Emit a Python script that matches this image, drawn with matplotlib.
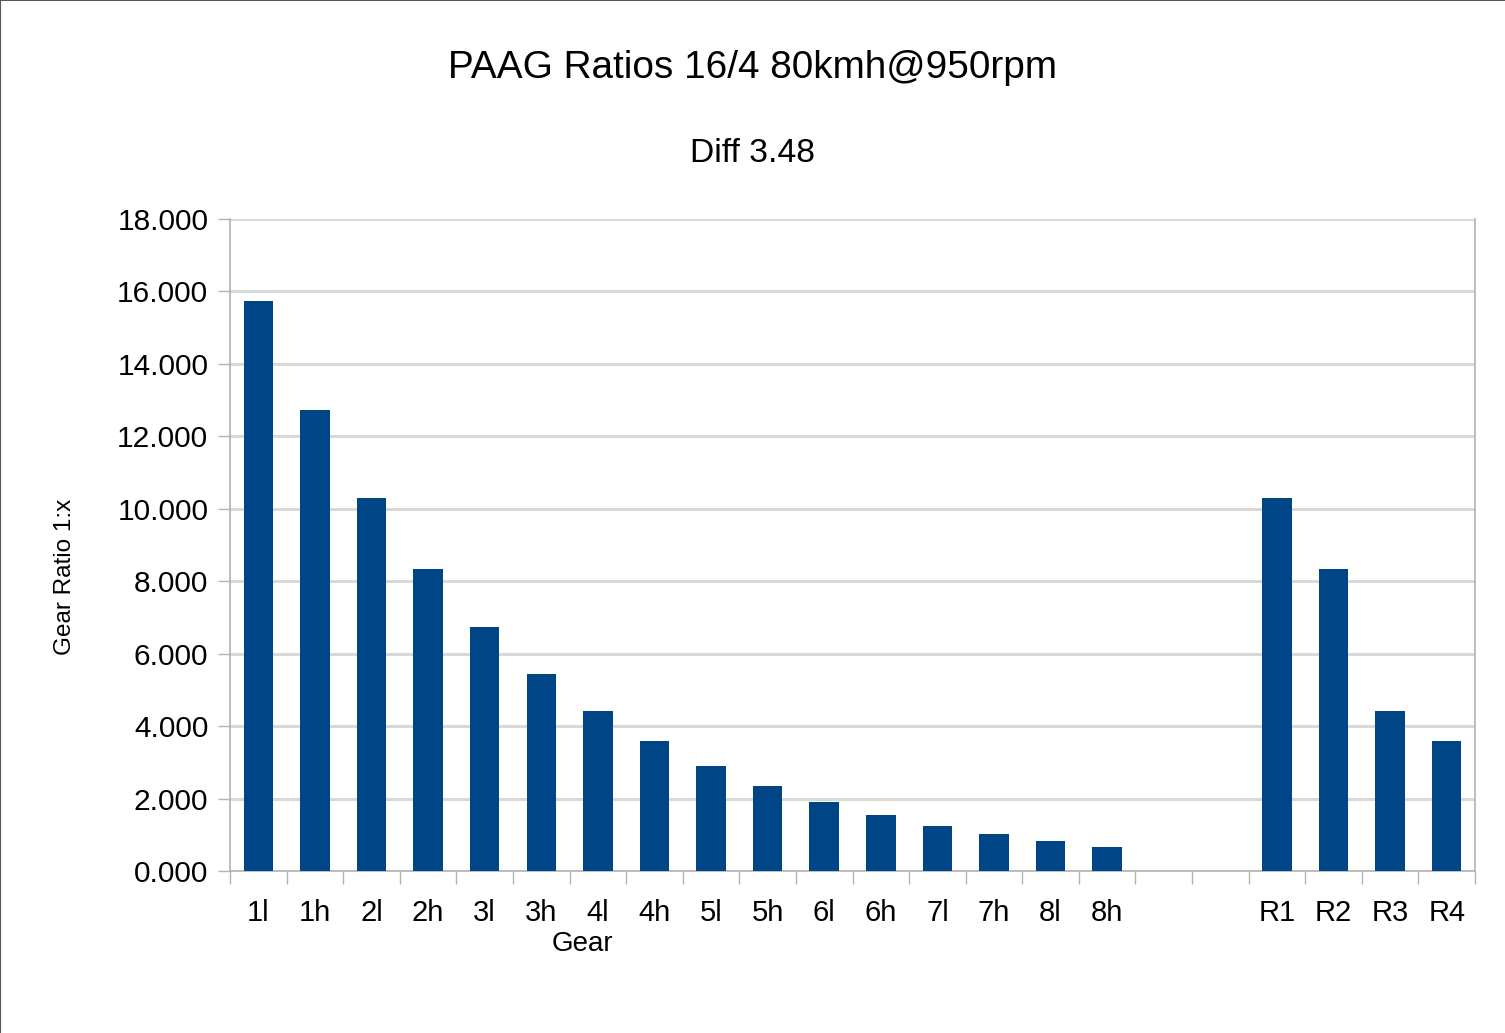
import matplotlib
matplotlib.use("Agg")
import matplotlib.pyplot as plt
from matplotlib.lines import Line2D
import numpy as np

categories = ["1l", "1h", "2l", "2h", "3l", "3h", "4l", "4h", "5l", "5h",
              "6l", "6h", "7l", "7h", "8l", "8h", "", "", "R1", "R2", "R3", "R4"]
ratios = [15.74, 12.73, 10.30, 8.34, 6.74, 5.44, 4.42, 3.59, 2.90, 2.35,
          1.91, 1.55, 1.24, 1.02, 0.83, 0.66, np.nan, np.nan, 10.30, 8.34, 4.42, 3.59]
yticks = [0, 2, 4, 6, 8, 10, 12, 14, 16, 18]

title = "PAAG Ratios 16/4 80kmh@950rpm"
subtitle = "Diff 3.48"
xlabel = "Gear"
ylabel = "Gear Ratio 1:x"

plt.rcParams['font.family'] = ['Liberation Sans', 'DejaVu Sans']

W, H = 1505, 1033
fig = plt.figure(figsize=(W / 100, H / 100), dpi=100)
fig.patch.set_facecolor("white")

left, right, top, bottom = 230, 1475, 219, 871
ax = fig.add_axes([left / W, 1 - bottom / H, (right - left) / W, (bottom - top) / H])

x = np.arange(len(categories))
vals = np.array(ratios, dtype=float)
ax.bar(x, np.nan_to_num(vals), width=0.52, color="#004586", zorder=3)

ax.set_xlim(-0.5, len(categories) - 0.5)
ax.set_ylim(0, 18)
ax.set_yticks(yticks)
ax.set_yticklabels([f"{v:.3f}" for v in yticks], fontsize=21.5)
ax.yaxis.grid(True, color="#d9d9d9", linewidth=2.2, zorder=0)
ax.set_axisbelow(True)

# category labels (minor) and boundary ticks (major)
ax.set_xticks(np.arange(len(categories) + 1) - 0.5)
ax.set_xticklabels([])
ax.set_xticks(x, minor=True)
ax.set_xticklabels(categories, minor=True, fontsize=21)
ax.tick_params(axis="x", which="major", length=9.4, color="#b3b3b3", width=1)
ax.tick_params(axis="x", which="minor", length=0, pad=20.5)
ax.tick_params(axis="y", length=8.6, color="#b3b3b3", width=1, pad=7)

for s in ["left", "right", "bottom"]:
    ax.spines[s].set_color("#b3b3b3")
    ax.spines[s].set_linewidth(1.2)
ax.spines["top"].set_visible(False)

fig.text(753 / W, 1 - 68 / H, title, ha="center", va="center", fontsize=27.9)
fig.text(753 / W, 1 - 154 / H, subtitle, ha="center", va="center", fontsize=24.2)
fig.text(582 / W, 1 - 944 / H, xlabel, ha="center", va="center", fontsize=20)
fig.text(65 / W, 1 - 577 / H, ylabel, ha="center", va="center", fontsize=17.5, rotation=90)

# thin frame on top and left edges
fig.add_artist(Line2D([0, 0], [0, 1], transform=fig.transFigure, color="#555555", linewidth=1.5))
fig.add_artist(Line2D([0, 1], [1, 1], transform=fig.transFigure, color="#555555", linewidth=1.5))

fig.savefig("out.png", dpi=100, facecolor="white")
